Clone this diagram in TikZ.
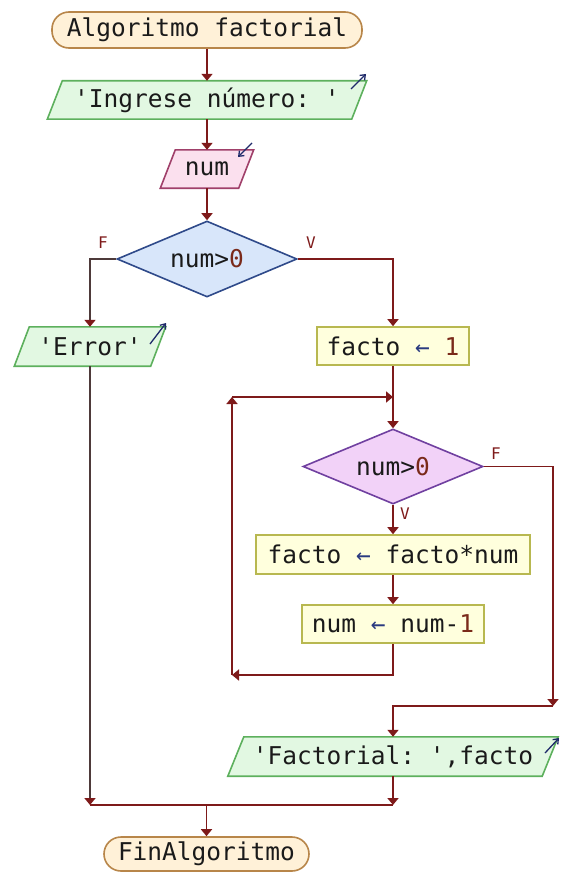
\documentclass[tikz,border=0pt]{standalone}
\usepackage{fontspec}
\setmonofont{DejaVu Sans Mono}
\usetikzlibrary{arrows.meta,shapes.geometric,backgrounds}
\definecolor{flow}{HTML}{7E1A1A}
\definecolor{greyl}{HTML}{4E3A3A}
\definecolor{txt}{HTML}{1A1A1A}
\definecolor{numc}{HTML}{7A2A1A}
\definecolor{asg}{HTML}{2A3A80}
\definecolor{termf}{HTML}{FFF1D8}
\definecolor{termd}{HTML}{B8864A}
\definecolor{outf}{HTML}{E2F8E2}
\definecolor{outd}{HTML}{5DB05D}
\definecolor{inf}{HTML}{FBE0EE}
\definecolor{ind}{HTML}{A0406A}
\definecolor{d1f}{HTML}{D8E6FA}
\definecolor{d1d}{HTML}{2F4A8A}
\definecolor{d2f}{HTML}{F2D2F8}
\definecolor{d2d}{HTML}{7040A0}
\definecolor{procf}{HTML}{FFFFDD}
\definecolor{procd}{HTML}{B8B850}
\definecolor{iconc}{HTML}{1F2A6A}
\newcommand\mkpar[4]{%
  \filldraw[fill=#3,draw=#4,line width=1.6pt]
    ([xshift=#2]#1.north west) -- ([xshift=#2]#1.north east) --
    ([xshift=-#2]#1.south east) -- ([xshift=-#2]#1.south west) -- cycle;}
\begin{document}
\begin{tikzpicture}[x=1pt,y=-1pt,
  base/.style={font=\ttfamily\fontsize{24.5}{28}\selectfont, text=txt, inner sep=0pt, minimum height=38pt},
  term/.style={base, draw=termd, fill=termf, rounded corners=17pt, line width=1.6pt},
  proc/.style={base, draw=procd, fill=procf, line width=1.6pt},
  iobox/.style={base},
  dec/.style={base, diamond, aspect=2.4, line width=1.6pt, minimum width=180pt, minimum height=76pt},
  lbl/.style={font=\ttfamily\fontsize{16}{18}\selectfont, text=flow},
  flowline/.style={draw=flow, line width=1.8pt},
  arr/.style={flowline, -{Triangle[width=11pt,length=7pt]}},
  greyarr/.style={draw=greyl, line width=1.8pt, -{Triangle[width=11pt,length=7pt,color=flow]}},
  icon/.style={draw=iconc, line width=1.3pt, -{Straight Barb[length=4.5pt,width=7pt]}}]
\useasboundingbox (0,0) rectangle (560,872);

\node[term, minimum width=310pt, minimum height=36pt] (start) at (207,30) {Algoritmo factorial};
\node[iobox, minimum width=304pt] (in1) at (207,100) {'Ingrese número: '};
\node[iobox, minimum width=78pt] (num) at (207,169) {num};
\node[dec, fill=d1f, draw=d1d] (d1) at (207,259) {num>\textcolor{numc}{0}};
\node[iobox, minimum width=136pt, minimum height=39pt] (err) at (90,346.5) {'Error'};
\node[proc, minimum width=152pt] (f1) at (393,346) {facto \textcolor{asg}{←} \textcolor{numc}{1}};
\node[dec, fill=d2f, draw=d2d, minimum height=75pt] (d2) at (393,466.5) {num>\textcolor{numc}{0}};
\node[proc, minimum width=274pt, minimum height=39pt] (b2) at (393,554.5) {facto \textcolor{asg}{←} facto*num};
\node[proc, minimum width=182pt] (b3) at (393,624) {num \textcolor{asg}{←} num-\textcolor{numc}{1}};
\node[iobox, minimum width=314pt, minimum height=39pt] (out2) at (393,756.5) {'Factorial: ',facto};
\node[term, minimum width=205pt, minimum height=34pt] (end) at (206.5,854) {FinAlgoritmo};

\node[lbl] (lf1) at (103,243) {F};
\node[lbl] (lv1) at (311,243) {V};
\node[lbl] (lf2) at (496,454) {F};
\node[lbl] (lv2) at (405,514) {V};

\begin{scope}[on background layer]
  \mkpar{in1}{7.5pt}{outf}{outd}
  \mkpar{num}{7.5pt}{inf}{ind}
  \mkpar{err}{7.5pt}{outf}{outd}
  \mkpar{out2}{8pt}{outf}{outd}
\end{scope}

% in/out icons
\draw[icon] (351,89) -- (366,74);
\draw[icon] (252,143) -- (238,157);
\draw[icon] (150,344) -- (166,323);
\draw[icon] (545,753) -- (559,738);

% connectors
\draw[arr] (start.south) -- (in1.north);
\draw[arr] (in1.south) -- (num.north);
\draw[arr] (num.south) -- (d1.north);
\draw[greyarr] (d1.west) -| (err.north);
\draw[arr] (d1.east) -| (f1.north);
\draw[arr] (f1.south) -- (d2.north);
\draw[arr] (d2.south) -- (b2.north);
\draw[arr] (b2.south) -- (b3.north);
\coordinate (lb) at (232,675);
\coordinate (lt) at (232,397);
\coordinate (lj) at (393,397);
\draw[arr] (b3.south) |- (lb);
\draw[arr] (lb) -- (lt);
\draw[arr] (lt) -- (lj);
\coordinate (fr) at (553,706);
\draw[arr] (d2.east) -| (fr);
\draw[arr] (fr) -| (out2.north);
\coordinate (jl) at (90,805);
\coordinate (jr) at (393,805);
\coordinate (jm) at (206.5,805);
\draw[greyarr] (err.south) -- (jl);
\draw[arr] (out2.south) -- (jr);
\draw[flowline] (jl) -- (jr);
\draw[arr] (jm) -- (end.north);
\end{tikzpicture}
\end{document}
